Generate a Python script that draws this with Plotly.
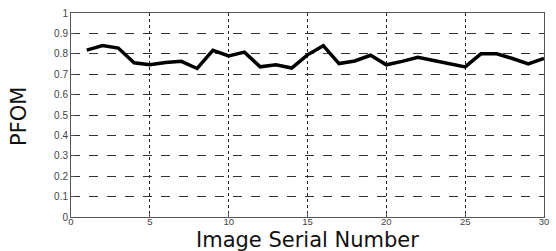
import plotly.graph_objects as go

image_numbers = list(range(1, 31))
pfom = [0.818, 0.84, 0.828, 0.756, 0.746, 0.757, 0.763, 0.728, 0.817, 0.79,
        0.808, 0.736, 0.746, 0.73, 0.795, 0.84, 0.752, 0.765, 0.793, 0.746,
        0.763, 0.783, 0.767, 0.752, 0.736, 0.8, 0.8, 0.777, 0.75, 0.777]
x_ticks = [0, 5, 10, 15, 20, 25, 30]
y_ticks = [0, 0.1, 0.2, 0.3, 0.4, 0.5, 0.6, 0.7, 0.8, 0.9, 1]
y_labels = ["0", "0.1", "0.2", "0.3", "0.4", "0.5", "0.6", "0.7", "0.8", "0.9", "1"]
x_title = "Image Serial Number"
y_title = "PFOM"

W, H = 556, 251
ML, MR, MT, MB = 71, 7, 10, 34
pw, ph = W - ML - MR, H - MT - MB

fig = go.Figure()
fig.add_trace(go.Scatter(x=image_numbers, y=pfom, mode="lines",
                         line=dict(color="black", width=3.5)))

fig.update_layout(
    width=W, height=H,
    margin=dict(l=ML, r=MR, t=MT, b=MB),
    paper_bgcolor="white", plot_bgcolor="white",
    showlegend=False,
    font=dict(family="Liberation Sans, Arial, sans-serif", color="#333"),
)
fig.update_xaxes(
    range=[0, 30], tickvals=x_ticks, ticktext=[str(v) for v in x_ticks],
    showgrid=True, gridcolor="#222", griddash="dot", gridwidth=1,
    showline=True, linecolor="#555", linewidth=1, mirror=True,
    ticks="inside", ticklen=4, tickcolor="#555",
    tickfont=dict(size=9.5, color="#444"),
    zeroline=False, ticklabeloverflow="allow", ticklabelstandoff=-4,
)
fig.update_yaxes(
    range=[0, 1], tickvals=y_ticks, ticktext=y_labels,
    showgrid=True, gridcolor="#333", griddash="dash", gridwidth=1,
    showline=True, linecolor="#555", linewidth=1, mirror=True,
    ticks="inside", ticklen=4, tickcolor="#555",
    tickfont=dict(size=10, color="#444"),
    zeroline=False, ticklabeloverflow="allow",
)
fig.add_annotation(text=x_title, xref="paper", yref="paper",
                   x=0.5, y=-(240 - ph - MT) / ph, xanchor="center", yanchor="middle",
                   showarrow=False,
                   font=dict(family="DejaVu Sans, sans-serif", size=21, color="#111"))
fig.add_annotation(text=y_title, xref="paper", yref="paper",
                   x=-(ML - 19) / pw, y=(H - MB - 115) / ph, xanchor="center", yanchor="middle",
                   textangle=-90, showarrow=False,
                   font=dict(family="DejaVu Sans, sans-serif", size=21, color="#111"))
fig.write_html("out.html",
               config={"displayModeBar": False},
               post_script="document.body.style.margin='0';document.body.style.overflow='hidden';")
